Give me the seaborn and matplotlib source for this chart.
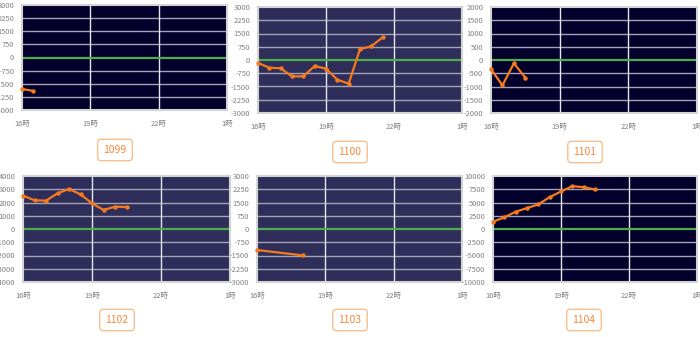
import matplotlib
matplotlib.use("Agg")
import matplotlib.pyplot as plt
import seaborn as sns
import pandas as pd

sns.set_theme(style="white")
plt.rcParams["font.family"] = ["Noto Sans CJK JP", "DejaVu Sans"]

# Half-hourly readings (hours counted from midnight; 16.0 = 16:00)
codes = ["1099", "1100", "1101", "1102", "1103", "1104"]

hours_1099 = [16.0, 16.5]
values_1099 = [-1800, -1910]

hours_1100 = [16.0, 16.5, 17.0, 17.5, 18.0, 18.5, 19.0, 19.5, 20.0, 20.5, 21.0, 21.5]
values_1100 = [-170, -435, -470, -925, -925, -340, -490, -1115, -1340, 620, 775, 1285]

hours_1101 = [16.0, 16.5, 17.0, 17.5]
values_1101 = [-350, -955, -125, -665]

hours_1102 = [16.0, 16.5, 17.0, 17.5, 18.0, 18.5, 19.0, 19.5, 20.0, 20.5]
values_1102 = [2520, 2165, 2140, 2690, 3020, 2615, 1940, 1435, 1685, 1660]

hours_1103 = [16.0, 18.0]
values_1103 = [-1190, -1490]

hours_1104 = [16.0, 16.5, 17.0, 17.5, 18.0, 18.5, 19.0, 19.5, 20.0, 20.5]
values_1104 = [1380, 2190, 3260, 3950, 4640, 6015, 7080, 8080, 7895, 7455]

yticks_1099 = [-3000, -2250, -1500, -750, 0, 750, 1500, 2250, 3000]
yticks_1100 = [-3000, -2250, -1500, -750, 0, 750, 1500, 2250, 3000]
yticks_1101 = [-2000, -1500, -1000, -500, 0, 500, 1000, 1500, 2000]
yticks_1102 = [-4000, -3000, -2000, -1000, 0, 1000, 2000, 3000, 4000]
yticks_1103 = [-3000, -2250, -1500, -750, 0, 750, 1500, 2250, 3000]
yticks_1104 = [-10000, -7500, -5000, -2500, 0, 2500, 5000, 7500, 10000]

xtick_pos = [16, 19, 22, 25]
xtick_labels = ["16時", "19時", "22時", "1時"]

series = [
    (hours_1099, values_1099, yticks_1099),
    (hours_1100, values_1100, yticks_1100),
    (hours_1101, values_1101, yticks_1101),
    (hours_1102, values_1102, yticks_1102),
    (hours_1103, values_1103, yticks_1103),
    (hours_1104, values_1104, yticks_1104),
]

DARK = "#03002c"
MUTED = "#2f2e5a"
backgrounds = [DARK, MUTED, DARK, MUTED, MUTED, DARK]

W, H = 700, 337
# panel boxes in pixels: left, top, right, bottom
boxes = [
    (22, 5, 227, 110),
    (258, 7, 462, 113),
    (491, 7, 697, 113),
    (23, 176, 230, 282),
    (257, 176, 462, 282),
    (493, 176, 697, 282),
]
badge_centers = [(115, 150), (350, 152), (585, 152), (117, 320), (350, 320), (584, 320)]

fig = plt.figure(figsize=(W / 100, H / 100), dpi=100)
fig.patch.set_facecolor("white")

for code, (hrs, vals, yt), bg, (l, t, r, b), (cx, cy) in zip(
        codes, series, backgrounds, boxes, badge_centers):
    ax = fig.add_axes([l / W, 1 - b / H, (r - l) / W, (b - t) / H])
    ax.set_facecolor(bg)
    for yv in yt[1:-1]:
        if yv != 0:
            ax.axhline(yv, color="#a3a3b5", lw=1.0, zorder=1)
    for xv in xtick_pos[1:-1]:
        ax.axvline(xv, color="#e6e6ee", lw=1.0, zorder=1)
    ax.axhline(0, color="#4cae4c", lw=1.6, zorder=2)

    df = pd.DataFrame({"hour": hrs, "value": vals})
    sns.lineplot(data=df, x="hour", y="value", ax=ax, color="#f57a1e",
                 lw=1.6, marker="o", markersize=3.2, markeredgewidth=0,
                 zorder=3, clip_on=False)

    ax.set_xlim(16, 25)
    ax.set_ylim(yt[0], yt[-1])
    ax.set_xticks(xtick_pos)
    ax.set_xticklabels(xtick_labels)
    ax.set_yticks(yt)
    ax.set_yticklabels([str(v) for v in yt])
    ax.set_xlabel("")
    ax.set_ylabel("")
    ax.tick_params(axis="both", labelsize=5.4, colors="#808080", length=2.5,
                   width=0.6, pad=3)
    ax.tick_params(axis="x", pad=7, length=0)
    for sp in ax.spines.values():
        sp.set_color("#d4d4d4")
        sp.set_linewidth(1.5)

    fig.text(cx / W, 1 - cy / H, code, ha="center", va="center",
             fontsize=7.5, color="#f5883a",
             bbox=dict(boxstyle="round,pad=0.55,rounding_size=0.35",
                       fc="white", ec="#f9bf8c", lw=1.0))

fig.savefig("out.png", dpi=100)
